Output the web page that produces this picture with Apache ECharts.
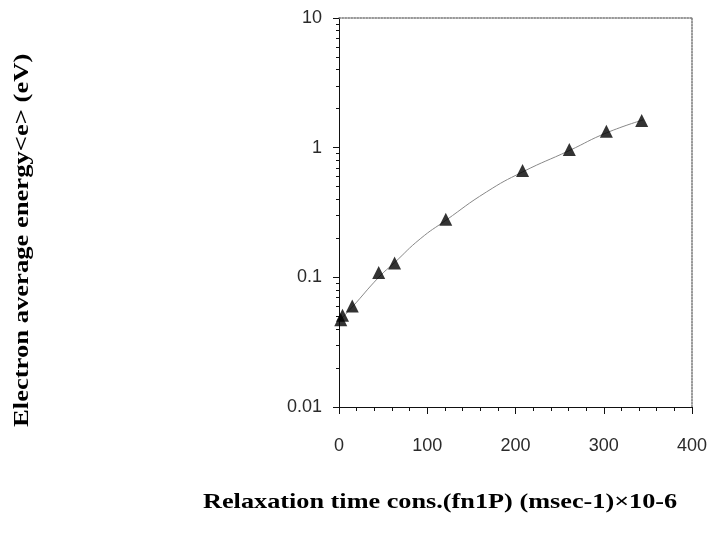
<!DOCTYPE html>
<html>
<head>
<meta charset="utf-8">
<script src="https://cdn.jsdelivr.net/npm/echarts@6/dist/echarts.min.js"></script>
<style>
  html, body { margin: 0; padding: 0; background: #fff; }
  #chart { width: 711px; height: 533px; }
</style>
</head>
<body>
<div id="chart"></div>
<script>
// measured points (x, <e> in eV)
const pointX = [2, 4, 15, 45, 63, 121, 208, 261, 303, 343];
const pointY = [0.047, 0.051, 0.060, 0.109, 0.129, 0.280, 0.668, 0.966, 1.34, 1.62];

// fitted curve
const curveX = [0, 15, 45, 63, 92, 121, 167, 208, 261, 303, 345];
const curveY = [0.046, 0.059, 0.100, 0.130, 0.198, 0.275, 0.455, 0.650, 0.950, 1.30, 1.64];

const xTicks = [0, 100, 200, 300, 400];

const xTitle = 'Relaxation time cons.(fn1P) (msec-1)×10-6';
const yTitle = 'Electron average energy<e> (eV)';

const chart = echarts.init(document.getElementById('chart'));

const labelStyle = { color: '#2a2a2a', fontFamily: 'Liberation Sans', fontSize: 18 };

chart.setOption({
    animation: false,
    grid: { left: 339, right: 19, top: 18, bottom: 126 },
    xAxis: [{
        type: 'value', min: 0, max: 400, interval: 100,
        axisLine: { lineStyle: { color: '#111', width: 1 } },
        axisTick: { length: 7, lineStyle: { color: '#111' } },
        minorTick: { show: true, splitNumber: 5, length: 4, lineStyle: { color: '#111' } },
        axisLabel: Object.assign({ margin: 30, formatter: v => xTicks.includes(v) ? String(v) : '' }, labelStyle),
        splitLine: { show: false }
    }, {
        type: 'value', position: 'top', min: 0, max: 400,
        axisLine: { show: true, onZero: false, lineStyle: { color: '#777', type: 'dotted', width: 1.5 } },
        axisTick: { show: false }, axisLabel: { show: false }, splitLine: { show: false }
    }],
    yAxis: [{
        type: 'log', logBase: 10, min: 0.01, max: 10,
        axisLine: { show: true, lineStyle: { color: '#111', width: 1 } },
        axisTick: { show: true, length: 6, lineStyle: { color: '#111' } },
        minorTick: { show: true, splitNumber: 9, length: 3, lineStyle: { color: '#111' } },
        axisLabel: Object.assign({ margin: 17, formatter: v => String(+v.toPrecision(3)) }, labelStyle),
        splitLine: { show: false }
    }, {
        type: 'value', position: 'right', min: 0, max: 1,
        axisLine: { show: true, onZero: false, lineStyle: { color: '#777', type: 'dotted', width: 1.5 } },
        axisTick: { show: false }, axisLabel: { show: false }, splitLine: { show: false }
    }],
    graphic: [{
        type: 'text', x: 203, y: 492, scaleX: 1.25,
        style: { text: xTitle, font: 'bold 21px "Liberation Serif"', fill: '#000' }
    }, {
        type: 'text', x: 13, y: 427, rotation: Math.PI / 2, scaleX: 1.33,
        style: { text: yTitle, font: 'bold 20px "Liberation Serif"', fill: '#000' }
    }],
    series: [{
        type: 'line',
        data: curveX.map((x, i) => [x, curveY[i]]),
        smooth: true, showSymbol: false,
        lineStyle: { color: '#888', width: 1 },
        z: 2
    }, {
        type: 'scatter',
        data: pointX.map((x, i) => [x, pointY[i]]),
        symbol: 'triangle', symbolSize: 13,
        itemStyle: { color: '#000' },
        z: 3
    }]
});
</script>
</body>
</html>
